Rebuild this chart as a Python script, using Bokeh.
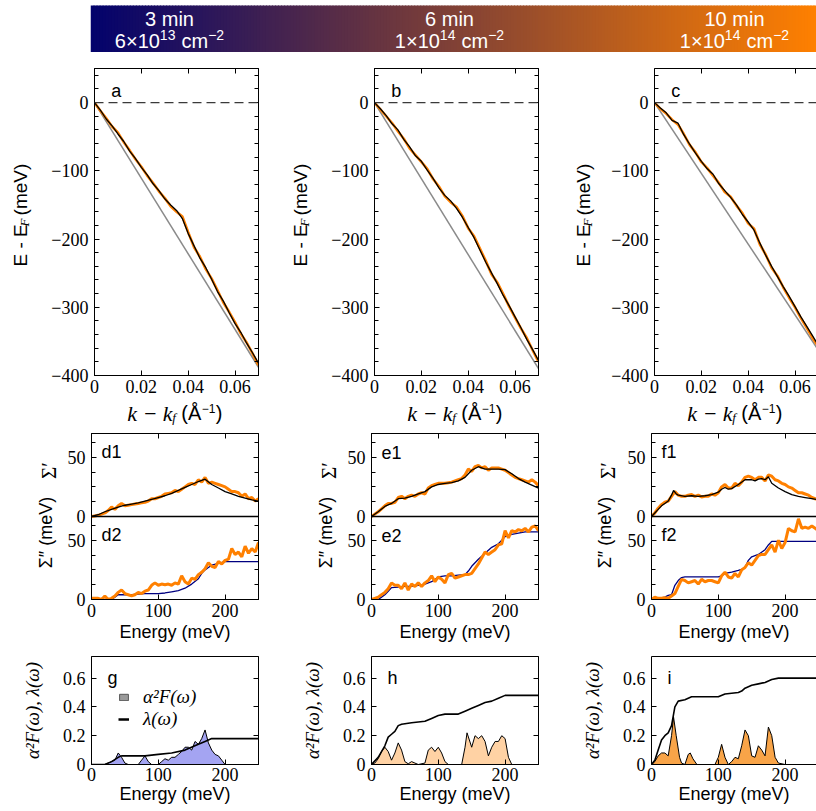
import numpy as np
from bokeh.plotting import figure
from bokeh.layouts import column, row
from bokeh.models import (Range1d, LinearAxis, FixedTicker, Label, Span,
                          Legend, LegendItem, CustomJSTickFormatter)
from bokeh.core.properties import value
from bokeh.embed import file_html
from bokeh.resources import INLINE

# ---------------------------------------------------------------- data
panel_titles = ["3 min", "6 min", "10 min"]
dose_mantissa = ["6×10", "1×10", "1×10"]
dose_exponent = ["13", "14", "14"]
dose_unit = "cm"
dose_unit_exp = "−2"
disp_letters = ["a", "b", "c"]
re_letters = ["d1", "e1", "f1"]
im_letters = ["d2", "e2", "f2"]
a2f_letters = ["g", "h", "i"]

# dispersion (k - kf in 1/Å, E - EF in meV)
k_grid = [0.0, 0.0025, 0.005, 0.0075, 0.01, 0.0125, 0.015, 0.0175, 0.02, 0.0225,
          0.025, 0.0275, 0.03, 0.0325, 0.035, 0.0375, 0.04, 0.0425, 0.045, 0.0475,
          0.05, 0.0525, 0.055, 0.0575, 0.06, 0.0625, 0.065, 0.0675, 0.07]
E_fit_a = [0, -11, -24, -34, -46, -57, -71, -82, -95, -106, -119, -129, -141, -150, -158,
           -170, -192, -210, -228, -242, -259, -277, -291, -308, -324, -337, -353, -367, -382]
E_data_a = [0, -12, -23, -35, -44, -58, -70, -83, -94, -107, -118, -130, -140, -152, -160,
            -167, -190, -212, -226, -244, -258, -275, -293, -307, -322, -339, -352, -368, -385]
E_fit_b = [0, -9, -19, -31, -40, -54, -65, -78, -86, -99, -111, -125, -136, -144, -155,
           -168, -183, -198, -216, -234, -250, -266, -283, -298, -314, -330, -347, -362, -378]
E_data_b = [0, -10, -20, -30, -42, -53, -67, -77, -87, -97, -112, -123, -137, -146, -153,
            -166, -184, -196, -214, -232, -252, -264, -281, -299, -315, -331, -345, -363, -380]
E_fit_c = [0, -8, -15, -26, -30, -47, -61, -74, -86, -97, -105, -119, -129, -139, -150,
           -164, -175, -187, -206, -224, -240, -255, -270, -284, -299, -314, -328, -342, -356]
E_data_c = [0, -9, -16, -25, -32, -46, -62, -73, -87, -96, -107, -118, -131, -138, -151,
            -162, -177, -185, -208, -223, -242, -254, -271, -286, -300, -316, -330, -345, -358]
bare_k = [0.0, 0.07]
bare_E_a = [0, -388]
bare_E_b = [0, -390]
bare_E_c = [0, -363]

# self energies (energy in meV)
w5 = list(range(0, 251, 5))
w10 = list(range(0, 251, 10))
re_data_d = [0, 0.5, 1, 2, 3, 5, 8, 6, 9, 11, 9, 9.5, 10, 10.5, 11, 11.5, 12, 13, 15, 15, 16,
             17, 19, 19.5, 20, 22, 21, 23, 25, 27, 28, 27, 31, 29, 33, 28, 29, 28, 27, 26, 25,
             23, 21, 21, 20, 17, 19, 15, 16, 13, 15]
re_fit_d = [0, 1.5, 4, 6, 8, 9.5, 10.5, 11.5, 13, 14.5, 16, 17.5, 19.5, 22, 24.5, 27, 29.5,
            31.5, 27, 24, 21, 19, 17, 15.5, 14, 13]
re_data_e = [0, 2, 4, 6.5, 9, 11, 11, 12, 16, 17, 15, 17, 18, 17, 19, 20, 19, 24, 26, 27, 28,
             28, 28, 28.5, 29, 30, 31, 32, 35, 40, 38, 42, 43, 41, 42, 39, 41, 41, 41, 40, 39,
             37, 35, 33, 32, 31, 30, 29, 31, 29, 26]
re_fit_e = [0, 4, 8.5, 11, 15, 15.5, 17, 19, 21, 25, 27, 28, 28.5, 30, 33, 39, 42, 40, 40, 40,
            39.5, 36, 32, 29, 26.5, 24]
re_data_f = [0, 3, 7, 10, 12, 13, 17, 21, 18, 17, 17, 18, 18.5, 17, 18, 16.5, 17, 17, 19, 18,
             20, 25, 27, 24, 24, 28, 26, 29, 33, 34, 33, 31, 33, 33, 30, 35, 34, 31, 30, 28, 27,
             25, 24, 22, 20, 20, 19, 18, 16, 15, 14]
re_fit_f_w = [0, 5, 10, 15, 20, 25, 30, 33, 37, 40, 50, 60, 70, 80, 90, 100, 105, 110, 115, 120,
              130, 140, 150, 155, 160, 165, 170, 175, 180, 190, 200, 210, 220, 230, 240, 250]
re_fit_f = [0, 3, 6, 9, 11, 13, 18, 22, 19, 18, 17, 17.5, 17, 17.5, 18.5, 20.5, 23, 24.5, 23,
            23.5, 27, 31, 31, 30, 31.5, 32, 31, 33.5, 28, 24, 21, 18.5, 17, 16, 15, 14]

im_data_d = [1, 1, 1, 0, 3, 0, 1, 3, 6, 8, 5, 4, 3, 4, 6, 5, 7, 8, 12, 14, 12, 13, 12.5, 13, 12,
             14, 13, 20, 15, 13, 18, 17, 21, 23, 26, 31, 28, 27, 32, 30, 33, 34, 43, 38, 40, 36,
             45, 39, 43, 40, 48]
im_fit_d_w = [0, 30, 35, 40, 50, 60, 70, 80, 90, 100, 110, 120, 130, 140, 150, 160, 165, 170,
              175, 180, 190, 200, 210, 250]
im_fit_d = [0, 0, 2, 4, 4, 4, 4.5, 5, 5, 5, 5.5, 6.5, 7.5, 9.5, 13, 17.5, 22, 25, 27, 29, 30.5,
            32, 32, 32]
im_data_e = [0, 1, 2, 4, 6, 9, 14, 12, 12, 9, 14, 8, 13, 11, 14, 11, 14, 16, 20, 15, 19, 17, 14,
             21, 22, 18, 19, 20, 21, 21, 22, 26, 30, 35, 40, 38, 40, 42, 46, 47, 58, 52, 58, 57,
             59, 58, 60, 57, 61, 62, 58]
im_fit_e_w = [0, 10, 15, 20, 25, 30, 40, 50, 60, 70, 80, 90, 100, 110, 120, 130, 140, 145, 150,
              160, 170, 180, 190, 200, 210, 220, 230, 250]
im_fit_e = [0, 0, 2, 4, 7, 10, 10.5, 11, 11, 12, 13, 15, 19, 20, 20, 20.5, 21, 24, 28, 34, 39,
            44, 47, 53, 55, 56, 57, 57]
im_data_f = [0, 2, 1, 1, 1.5, 1, 3, 5, 11, 17, 16, 14, 15, 16, 13, 17, 15, 16, 16, 15, 14, 20,
             23, 19, 18, 22, 19, 25, 27, 31, 29, 33, 37, 38, 38, 42, 46, 40, 50, 43, 48, 60, 58,
             57, 68, 60, 61, 60, 62, 60, 58]
im_fit_f_w = [0, 10, 20, 25, 30, 35, 40, 45, 50, 100, 105, 110, 120, 130, 135, 140, 145, 150,
              160, 170, 175, 180, 190, 250]
im_fit_f = [0, 1, 2, 3.5, 4, 12, 16, 18.5, 19, 19, 20, 22, 23, 24.5, 25.5, 27, 33, 36, 38, 42,
            46, 49, 49, 49]

# Eliashberg function and coupling
a2f_w_g = [0, 20, 25, 30, 35, 40, 45, 50, 55, 70, 75, 80, 85, 90, 100, 105, 110, 115, 120, 125,
           130, 135, 140, 145, 150, 155, 160, 165, 170, 175, 180, 185, 190, 195, 200, 250]
a2f_g = [0, 0, 0.01, 0.02, 0.03, 0.08, 0.05, 0.01, 0, 0, 0.03, 0.06, 0.02, 0, 0, 0.02, 0.04,
         0.03, 0.05, 0.05, 0.07, 0.09, 0.12, 0.12, 0.1, 0.16, 0.14, 0.18, 0.24, 0.15, 0.1, 0.07,
         0.06, 0.03, 0, 0]
lam_w_g = [0, 20, 30, 40, 45, 80, 100, 120, 140, 160, 170, 180, 200, 250]
lam_g = [0, 0, 0.02, 0.05, 0.06, 0.06, 0.07, 0.08, 0.1, 0.14, 0.16, 0.18, 0.18, 0.18]
a2f_w_h = [0, 5, 10, 15, 20, 25, 30, 35, 40, 45, 50, 55, 60, 65, 70, 80, 85, 90, 95, 100, 105,
           110, 115, 135, 140, 143, 150, 155, 160, 165, 170, 175, 180, 185, 190, 195, 200, 205,
           210, 250]
a2f_h = [0, 0.01, 0.04, 0.09, 0.12, 0.09, 0.03, 0.08, 0.15, 0.1, 0.02, 0.005, 0.02, 0.01, 0,
         0.01, 0.1, 0.12, 0.09, 0.12, 0.08, 0.02, 0, 0, 0.12, 0.22, 0.12, 0.2, 0.18, 0.2, 0.16,
         0.06, 0.12, 0.16, 0.16, 0.2, 0.18, 0.05, 0, 0]
lam_w_h = [0, 10, 20, 25, 30, 35, 40, 45, 60, 80, 90, 100, 110, 130, 140, 150, 160, 170, 180,
           190, 200, 250]
lam_h = [0, 0.05, 0.13, 0.19, 0.21, 0.23, 0.27, 0.28, 0.29, 0.3, 0.32, 0.34, 0.35, 0.35, 0.37,
         0.39, 0.41, 0.43, 0.44, 0.46, 0.48, 0.48]
a2f_w_i = [0, 5, 10, 15, 20, 25, 30, 33, 37, 42, 45, 50, 55, 58, 62, 68, 95, 100, 105, 110, 115,
           120, 125, 130, 135, 140, 145, 150, 155, 160, 165, 170, 175, 180, 185, 190, 200, 250]
a2f_i = [0, 0.02, 0.06, 0.08, 0.08, 0.06, 0.2, 0.33, 0.2, 0.05, 0.01, 0, 0.07, 0.08, 0.04, 0, 0,
         0.05, 0.14, 0.05, 0, 0.02, 0.05, 0.04, 0.13, 0.24, 0.2, 0.06, 0.05, 0.13, 0.1, 0.06,
         0.26, 0.2, 0.05, 0.01, 0, 0]
lam_w_i = [0, 5, 10, 15, 20, 25, 30, 35, 40, 50, 60, 100, 110, 130, 135, 140, 150, 160, 170,
           180, 190, 250]
lam_i = [0, 0.03, 0.1, 0.17, 0.2, 0.22, 0.27, 0.4, 0.44, 0.45, 0.47, 0.47, 0.49, 0.5, 0.51,
         0.53, 0.55, 0.56, 0.57, 0.59, 0.6, 0.6]

# ticks
k_ticks = [0, 0.02, 0.04, 0.06]
k_tick_labels = ["0", "0.02", "0.04", "0.06"]
E_ticks = [-400, -300, -200, -100, 0]
E_tick_labels = ["−400", "−300", "−200", "−100", "0"]
S_tick_labels = ["0", "50"]
w_ticks = [0, 100, 200]
w_tick_labels = ["0", "100", "200"]
L_ticks = [0, 0.2, 0.4, 0.6]
L_tick_labels = ["0", "0.2", "0.4", "0.6"]

disp_fit = [E_fit_a, E_fit_b, E_fit_c]
disp_data = [E_data_a, E_data_b, E_data_c]
disp_bare = [bare_E_a, bare_E_b, bare_E_c]
re_data = [re_data_d, re_data_e, re_data_f]
re_fit = [(w10, re_fit_d), (w10, re_fit_e), (re_fit_f_w, re_fit_f)]
im_data = [im_data_d, im_data_e, im_data_f]
im_fit = [(im_fit_d_w, im_fit_d), (im_fit_e_w, im_fit_e), (im_fit_f_w, im_fit_f)]
a2f = [(a2f_w_g, a2f_g), (a2f_w_h, a2f_h), (a2f_w_i, a2f_i)]
lam = [(lam_w_g, lam_g), (lam_w_h, lam_h), (lam_w_i, lam_i)]

# ---------------------------------------------------------------- style / layout
SANS = "Liberation Sans"
SERIF = "Liberation Serif"
ORANGE = "#ff8000"
NAVY = "#000080"
GREY = "#8a8a8a"
FILLS = ["#a4a4f2", "#ffd2a4", "#f8a448"]
GRAD_L = (2, 2, 108)
GRAD_R = (255, 128, 0)
TICK_SIZE = "18px"

COL_W = [280, 280, 256]
LB = 91
RB = [22, 22, 0]
FW = [167, 167, 165]
K_END = [0.07 * fw / 167 for fw in FW]
W_END = [250 * fw / 167 for fw in FW]
KPX = 0.07 / 167
WPX = 250 / 167
YL1 = 48          # label strip beside the dispersion panels
YL2 = 64          # label strip beside the self-energy panels
HEAD_H, BAR_H = 52, 47
DISP_T, DISP_F, DISP_B = 16, 307, 25
XL_H = 25
SIG_T, SIG_F, SIG_B = 8, 166, 48
A2F_T, A2F_F, A2F_B = 9, 108, 45


def fmt(ticks, labels):
    return CustomJSTickFormatter(args=dict(tv=list(ticks), tl=list(labels)), code="""
const i = tv.findIndex(t => Math.abs(t - tick) < 1e-9);
return i >= 0 ? tl[i] : "";
""")


def style(ax, ticks, labels=None, minor=(), show=True, standoff=5):
    ax.ticker = FixedTicker(ticks=list(ticks), minor_ticks=list(minor))
    ax.axis_line_color = "black"
    ax.axis_line_width = 1
    ax.major_tick_in = 5
    ax.major_tick_out = 0
    ax.minor_tick_in = 4
    ax.minor_tick_out = 0
    ax.major_tick_line_color = "black"
    ax.minor_tick_line_color = "black"
    if show and labels is not None:
        ax.formatter = fmt(ticks, labels)
        ax.major_label_text_font = SERIF
        ax.major_label_text_font_size = TICK_SIZE
        ax.major_label_text_color = "black"
        ax.major_label_standoff = standoff
    else:
        ax.formatter = fmt([], [])
        ax.major_label_text_font_size = "0px"
        ax.major_label_standoff = 0


def axis_label(ax, text, font, size, standoff, style_="normal"):
    ax.axis_label = text
    ax.axis_label_text_font = font
    ax.axis_label_text_font_size = size
    ax.axis_label_text_font_style = style_
    ax.axis_label_text_color = "black"
    ax.axis_label_standoff = standoff


def make_fig(w, h, left, right, top, bottom, xr, yr, col, xaxis=True):
    p = figure(width=w, height=h, output_backend="svg", toolbar_location=None,
               x_range=Range1d(*xr), y_range=Range1d(*yr),
               min_border_left=left, min_border_right=right, min_border_top=top,
               min_border_bottom=bottom, x_axis_location="below" if xaxis else None)
    p.xgrid.visible = False
    p.ygrid.visible = False
    p.background_fill_color = "white"
    p.border_fill_color = "white"
    p.outline_line_color = "black" if col < 2 else None
    p.outline_line_width = 1
    return p


def blank_fig(w, h, xr, yr, left=0, right=0):
    p = figure(width=w, height=h, output_backend="svg", toolbar_location=None,
               x_range=Range1d(*xr), y_range=Range1d(*yr), min_border_left=left,
               min_border_right=right, min_border_top=0, min_border_bottom=0,
               x_axis_location=None, y_axis_location=None)
    p.xgrid.visible = False
    p.ygrid.visible = False
    p.outline_line_color = None
    p.border_fill_color = "white"
    p.background_fill_color = "white"
    return p


def txt(p, x, y, s, font, size, fstyle="normal", angle=0.0, align="left", color="black"):
    p.text(x=[x], y=[y], text=[s], angle=angle, text_align=align, text_baseline="middle",
           text_font=value(font), text_font_size=value(size), text_font_style=fstyle,
           text_color=color)


def letter(p, x, y, text, yname="default"):
    p.add_layout(Label(x=x, y=y, text=text, text_align="left", text_baseline="middle",
                       text_font=SANS, text_font_size="18px", text_color="black",
                       y_range_name=yname))


# ---------------------------------------------------------------- header
head = blank_fig(816, HEAD_H, (0, 816 - 90), (0, HEAD_H), left=90)
N = 240
xs = np.linspace(0, 726, N + 1)
tt = (xs[:-1] + xs[1:]) / 2 / 726
cols = ["#%02x%02x%02x" % tuple(int(round(a + (b - a) * t)) for a, b in zip(GRAD_L, GRAD_R))
        for t in tt]
head.quad(left=xs[:-1], right=xs[1:] + 1.0, bottom=0, top=BAR_H, fill_color=cols,
          line_color=None)
for cx, t1, man, ex in zip([79, 359, 644], panel_titles, dose_mantissa, dose_exponent):
    txt(head, cx, 34, t1, SANS, "20px", align="center", color="white")
    wm, we, wu, wx = 45.0, 15.6, 26.7, 16.0
    tot = wm + we + 6 + wu + wx
    s = cx - tot / 2
    txt(head, s, 12, man, SANS, "20px", color="white")
    txt(head, s + wm, 18, ex, SANS, "14px", color="white")
    txt(head, s + wm + we + 6, 12, dose_unit, SANS, "20px", color="white")
    txt(head, s + wm + we + 6 + wu, 18, dose_unit_exp, SANS, "14px", color="white")

E_minor = [v for v in range(-400, 51, 20) if v % 100 != 0]
SIG_ticks = [-70, -20, 0, 50]
SIG_labels = ["0", "50", "0", "50"]
SIG_minor = [-57.5, -45, -32.5, -7.5, 12.5, 25, 37.5, 62.5]

blocks, a2f_row = [], []
for c in range(3):
    W = COL_W[c]
    # ---------------- dispersion
    hd = DISP_T + DISP_F + DISP_B
    p = make_fig(W - YL1, hd, LB - YL1, RB[c], DISP_T, DISP_B, (0, K_END[c]), (-400, 50), c)
    style(p.yaxis[0], E_ticks, E_tick_labels, minor=E_minor, standoff=6)
    style(p.xaxis[0], k_ticks, k_tick_labels, standoff=4)
    top = LinearAxis()
    style(top, k_ticks, show=False)
    p.add_layout(top, "above")
    if c < 2:
        rt = LinearAxis()
        style(rt, E_ticks, minor=E_minor, show=False)
        p.add_layout(rt, "right")
    p.add_layout(Span(location=0, dimension="width", line_color="#3a3a3a", line_width=1.3,
                      line_dash="9 5"))
    p.line(bare_k, disp_bare[c], line_color=GREY, line_width=1.5)
    p.line(k_grid, disp_data[c], line_color=ORANGE, line_width=2.6)
    p.line(k_grid, disp_fit[c], line_color="black", line_width=1.3)
    letter(p, 17 * KPX, 12 * 450 / DISP_F, disp_letters[c])
    disp = p

    # y label strip: E - E_F (meV)
    yl = blank_fig(YL1, hd, (0, YL1), (0, hd))
    w1, w2, w3 = 43.0, 10.0, 52.0
    L = w1 + w2 + 5 + w3
    yc = DISP_B + DISP_F / 2
    x0 = 20 if c < 2 else 23
    y0 = yc - L / 2
    txt(yl, x0, y0, "E - E", SANS, "19px", angle=np.pi / 2)
    txt(yl, x0 + 4, y0 + w1 + 2.5, "F", SERIF, "13px", fstyle="italic", angle=np.pi / 2)
    txt(yl, x0, y0 + w1 + w2 + 5, "(meV)", SANS, "19px", angle=np.pi / 2)

    # x label strip: k - k_f (Å^-1)
    xl = blank_fig(W, XL_H, (0, K_END[c]), (0, XL_H), left=LB, right=RB[c])
    pieces = [("k − k", SERIF, "22px", "italic", 0.0, 45.0),
              ("f", SERIF, "13px", "italic", -4.0, 9.0),
              ("(Å", SANS, "20px", "normal", 0.0, 20.5),
              ("−1", SANS, "12px", "normal", 4.5, 14.0),
              (")", SANS, "20px", "normal", 0.0, 7.0)]
    Lx = sum(pc[5] for pc in pieces)
    xpos = 0.035 - Lx / 2 * KPX
    for s_, f_, sz, st, dy, wd in pieces:
        txt(xl, xpos, 12.5 + dy, s_, f_, sz, fstyle=st)
        xpos += wd * KPX

    # ---------------- self energy (real part on top, imaginary part below)
    hs = SIG_T + SIG_F + SIG_B
    p = make_fig(W - YL2, hs, LB - YL2, RB[c], SIG_T, SIG_B, (0, W_END[c]), (-70, 70), c)
    p.extra_y_ranges = {"im": Range1d(0, 140)}
    style(p.yaxis[0], SIG_ticks, SIG_labels, minor=SIG_minor, standoff=6)
    style(p.xaxis[0], w_ticks, w_tick_labels, standoff=4)
    axis_label(p.xaxis[0], "Energy (meV)", SANS, "18px", 2)
    top = LinearAxis()
    style(top, w_ticks, show=False)
    p.add_layout(top, "above")
    if c < 2:
        rt = LinearAxis()
        style(rt, SIG_ticks, minor=SIG_minor, show=False)
        p.add_layout(rt, "right")
    p.add_layout(Span(location=0, dimension="width", line_color="black", line_width=1.3))
    p.line(w5, re_data[c], line_color=ORANGE, line_width=3)
    p.line(re_fit[c][0], re_fit[c][1], line_color="black", line_width=1.3)
    p.line(im_fit[c][0], im_fit[c][1], line_color=NAVY, line_width=1.3, y_range_name="im")
    p.line(w5, im_data[c], line_color=ORANGE, line_width=3, y_range_name="im")
    letter(p, 10 * WPX, 54, re_letters[c])
    letter(p, 10 * WPX, 54, im_letters[c], yname="im")
    sig = p

    yl2 = blank_fig(YL2, hs, (0, YL2), (0, hs))
    txt(yl2, 48 if c < 2 else 47, SIG_B + SIG_F * 0.75, "Σ′", SERIF, "21px",
        angle=np.pi / 2, align="center")
    txt(yl2, 45 if c < 2 else 44, SIG_B + SIG_F * 0.25, "Σ″ (meV)", SANS, "18px",
        angle=np.pi / 2, align="center")

    blocks.append(column(row(yl, disp), xl, row(yl2, sig)))

    # ---------------- a2F
    p = make_fig(W, A2F_T + A2F_F + A2F_B, LB, RB[c], A2F_T, A2F_B, (0, W_END[c]),
                 (0, 0.75), c)
    style(p.yaxis[0], L_ticks, L_tick_labels, standoff=6)
    axis_label(p.yaxis[0], "α²F(ω), λ(ω)", SERIF, "19px", 17, "italic")
    style(p.xaxis[0], w_ticks, w_tick_labels, standoff=3)
    axis_label(p.xaxis[0], "Energy (meV)", SANS, "18px", 0)
    if c < 2:
        rt = LinearAxis()
        style(rt, L_ticks, show=False)
        p.add_layout(rt, "right")
    else:
        top = LinearAxis()
        style(top, [], show=False)
        p.add_layout(top, "above")
    p.varea(x=a2f[c][0], y1=0, y2=a2f[c][1], fill_color=FILLS[c])
    p.line(a2f[c][0], a2f[c][1], line_color="black", line_width=1)
    p.line(lam[c][0], lam[c][1], line_color="black", line_width=1.6)
    letter(p, 16 * WPX, 0.6, a2f_letters[c])
    if c == 0:
        r1 = p.quad(left=[np.nan], right=[np.nan], top=[np.nan], bottom=[np.nan],
                    fill_color="#9a9a9a", line_color="#555555")
        r2 = p.line(x=[np.nan], y=[np.nan], line_color="black", line_width=2.5)
        leg = Legend(items=[LegendItem(label="α²F(ω)", renderers=[r1]),
                            LegendItem(label="λ(ω)", renderers=[r2])],
                     location=(27, 34), background_fill_alpha=0, border_line_alpha=0,
                     label_text_font=SERIF, label_text_font_style="italic",
                     label_text_font_size="19px", label_text_color="black",
                     glyph_width=11, glyph_height=8, label_standoff=14, spacing=-7,
                     padding=0, margin=0, label_height=14)
        p.add_layout(leg)
    a2f_row.append(p)

layout = column(head, row(*blocks), row(*a2f_row))
open("out.html", "w").write(file_html(layout, INLINE))
